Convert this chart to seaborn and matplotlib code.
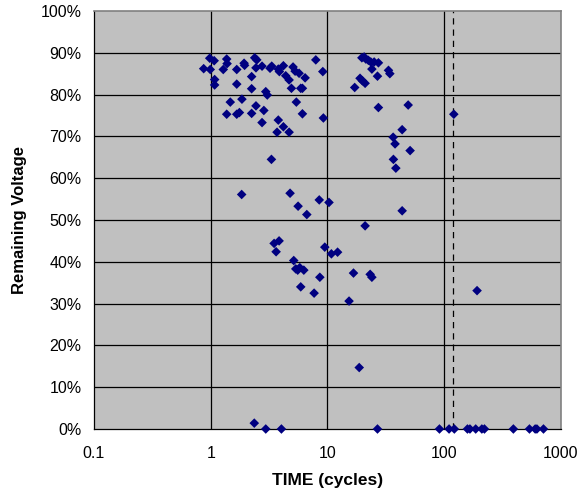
import numpy as np
import pandas as pd
import matplotlib
matplotlib.use("Agg")
import matplotlib.pyplot as plt
import seaborn as sns
from matplotlib.ticker import FixedLocator, NullLocator, FuncFormatter

# Ciclos hasta el fallo y voltaje remanente (%)
cycles_top = [0.87, 0.98, 1.07, 0.99, 1.08, 1.08, 1.37, 1.38, 1.28, 1.67,
              1.67, 1.93, 1.95, 2.24, 2.24, 2.38, 2.48, 2.44, 2.75, 2.96,
              3.05, 3.22, 3.33, 3.79, 3.87, 4.19, 4.39, 4.69, 4.91, 5.07,
              5.28, 5.71, 5.90, 6.10, 6.43, 7.94, 9.12]
volt_top = [86.2, 88.7, 88.1, 86.0, 83.6, 82.3, 88.5, 87.4, 86.0, 86.0,
            82.5, 87.5, 87.0, 84.3, 81.4, 88.8, 88.3, 86.4, 86.8, 80.7,
            79.9, 86.3, 86.8, 86.1, 85.5, 86.9, 84.5, 83.5, 81.5, 86.6,
            85.6, 85.1, 81.5, 81.5, 84.0, 88.3, 85.5]

cycles_mid = [1.47, 1.85, 1.37, 1.67, 1.76, 2.24, 2.44, 2.85, 2.75, 3.79,
              4.19, 3.70, 4.69, 5.41, 6.10, 9.22]
volt_mid = [78.2, 78.9, 75.3, 75.3, 75.7, 75.5, 77.3, 76.2, 73.3, 73.9,
            72.3, 71.0, 71.0, 78.2, 75.4, 74.4]

cycles_right = [19.7, 20.6, 21.3, 22.4, 23.5, 25.1, 27.3, 24.0, 26.8, 33.3,
                34.2, 19.0, 19.9, 21.0, 17.1, 27.3, 49.1, 120.8, 43.6, 36.5,
                37.9, 51.0, 36.7, 38.5]
volt_right = [88.8, 89.0, 88.5, 88.2, 87.8, 87.8, 87.6, 86.1, 84.4, 85.8,
              85.0, 83.9, 83.3, 82.7, 81.7, 76.9, 77.5, 75.3, 71.6, 69.8,
              68.2, 66.6, 64.5, 62.4]

cycles_low = [3.31, 1.84, 4.78, 5.60, 6.65, 8.5, 10.3, 43.6, 21.0, 3.49,
              3.85, 3.63, 5.14, 5.35, 5.79, 6.27, 5.56, 5.90, 7.68, 8.6,
              9.48, 10.8, 12.2, 16.7, 23.2, 24.0, 15.3, 18.7, 191.0]
volt_low = [64.5, 56.1, 56.4, 53.3, 51.3, 54.8, 54.2, 52.2, 48.6, 44.4,
            45.0, 42.4, 40.3, 38.3, 38.6, 38.0, 38.0, 34.0, 32.5, 36.3,
            43.5, 41.9, 42.3, 37.3, 37.0, 36.3, 30.6, 14.7, 33.1]

cycles_dead = [2.36, 2.96, 4.03, 26.8, 91.0, 110.0, 122.0, 158.0, 166.0,
               186.0, 210.0, 221.0, 391.0, 537.0, 601.0, 622.0, 708.0]
volt_dead = [1.4, 0, 0, 0, 0, 0, 0, 0, 0, 0, 0, 0, 0, 0, 0, 0, 0]

limit_cycles = 120

x_ticks = [0.1, 1, 10, 100, 1000]
x_labels = ["0.1", "1", "10", "100", "1000"]
y_ticks = list(range(0, 101, 10))

df = pd.DataFrame({
    "cycles": cycles_top + cycles_mid + cycles_right + cycles_low + cycles_dead,
    "volt": volt_top + volt_mid + volt_right + volt_low + volt_dead,
})

sns.set_style("white")
plt.rcParams["font.family"] = ["Liberation Sans", "DejaVu Sans"]
plt.rcParams.update({"text.color": "black", "axes.labelcolor": "black",
                     "xtick.color": "black", "ytick.color": "black"})

fig = plt.figure(figsize=(5.82, 4.99), dpi=100)
ax = fig.add_axes([0.1615, 0.1403, 0.8024, 0.8377])
ax.set_facecolor("#c0c0c0")

ax.set_xscale("log")
ax.set_xlim(0.1, 1000)
ax.set_ylim(0, 100)

# rejilla tipo Excel: lineas negras en decadas y cada 10 %
for v in x_ticks[1:-1]:
    ax.axvline(v, color="black", lw=0.9, zorder=1)
for v in y_ticks[1:-1]:
    ax.axhline(v, color="black", lw=0.9, zorder=1)
ax.axvline(limit_cycles, color="black", lw=0.9, ls=(0, (5, 4)), zorder=1)

sns.scatterplot(data=df, x="cycles", y="volt", marker="D", s=24,
                color="#000080", edgecolor="none", linewidth=0,
                ax=ax, zorder=3, clip_on=False)

ax.xaxis.set_major_locator(FixedLocator(x_ticks))
ax.xaxis.set_minor_locator(NullLocator())
ax.set_xticklabels(x_labels)
ax.yaxis.set_major_locator(FixedLocator(y_ticks))
ax.yaxis.set_major_formatter(FuncFormatter(lambda v, _: f"{v:.0f}%"))
ax.tick_params(axis="both", direction="out", length=4, width=0.9,
               color="black", labelcolor="black", labelsize=11.5, pad=5)
ax.tick_params(axis="x", pad=8)

for side in ("left", "bottom"):
    ax.spines[side].set_color("black")
    ax.spines[side].set_linewidth(0.9)
for side in ("top", "right"):
    ax.spines[side].set_color("#808080")
    ax.spines[side].set_linewidth(1.2)

ax.set_xlabel("TIME (cycles)", fontsize=12.5, fontweight="bold", labelpad=9,
              color="black")
ax.set_ylabel("Remaining Voltage", fontsize=12, fontweight="bold", labelpad=10,
              color="black")

fig.savefig("out.png", dpi=100)
